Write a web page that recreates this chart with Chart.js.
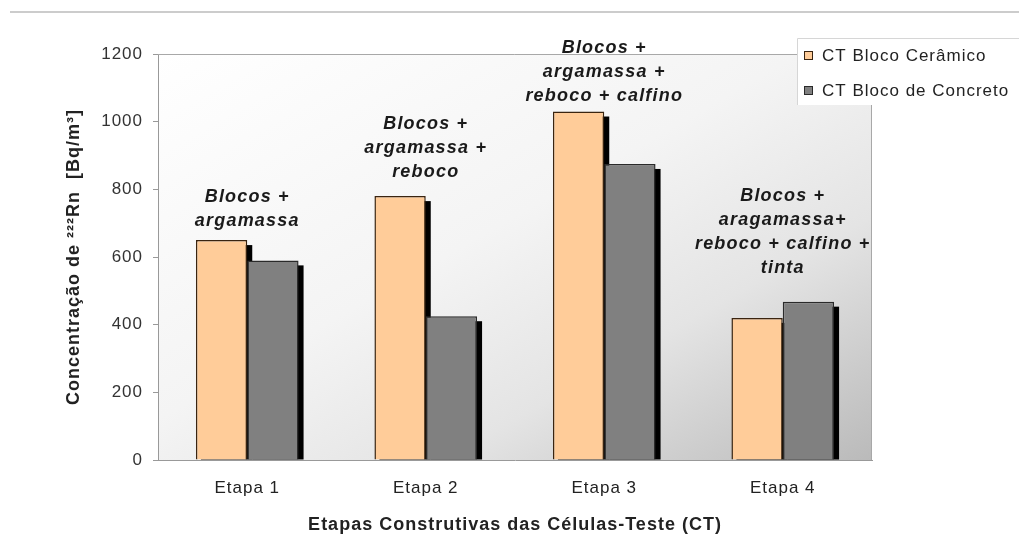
<!DOCTYPE html>
<html>
<head>
<meta charset="utf-8">
<script src="https://cdn.jsdelivr.net/npm/chart.js@4.4.1/dist/chart.umd.min.js"></script>
<style>
    html, body { margin: 0; padding: 0; background: #fff; }
    #wrap { width: 1019px; height: 547px; }
</style>
</head>
<body>
<div id="wrap"><canvas id="radonChart" width="1019" height="547"></canvas></div>
<script>
// values (Bq/m3)
const categories = ['Etapa 1', 'Etapa 2', 'Etapa 3', 'Etapa 4'];
const seriesNames = ['CT Bloco Cerâmico', 'CT Bloco de Concreto'];
const ceramicValues = [650, 780, 1030, 420];
const concreteValues = [590, 425, 875, 468];
const yMin = 0;
const yMax = 1200;
const yStep = 200;

// text above each group, and the value level of its last line
const noteLines = [
    ['Blocos +', 'argamassa'],
    ['Blocos +', 'argamassa +', 'reboco'],
    ['Blocos +', 'argamassa +', 'reboco + calfino'],
    ['Blocos +', 'aragamassa+', 'reboco + calfino +', 'tinta'],
];
const noteAnchors = [705, 850, 1075, 568];

const FONT = "'Liberation Sans', Arial, sans-serif";

const plotDecor = {
    id: 'plotDecor',
    beforeDraw(chart) {
        const { ctx, chartArea: a } = chart;
        ctx.letterSpacing = '1px';
        ctx.save();
        // separator line at the very top
        ctx.strokeStyle = '#cccccc';
        ctx.lineWidth = 2;
        ctx.beginPath();
        ctx.moveTo(10, 12);
        ctx.lineTo(1019, 12);
        ctx.stroke();
        // shaded plot area
        const w = a.right - a.left;
        const h = a.bottom - a.top;
        const k = (2 * w * h) / (w * w + h * h);
        const g = ctx.createLinearGradient(a.left, a.top, a.left + h * k, a.top + w * k);
        g.addColorStop(0, '#ffffff');
        g.addColorStop(0.45, '#f4f4f4');
        g.addColorStop(0.7, '#e4e4e4');
        g.addColorStop(1, '#bababa');
        ctx.fillStyle = g;
        ctx.fillRect(a.left, a.top, w, h);
        ctx.restore();
    },
    beforeDatasetsDraw(chart) {
        const { ctx, chartArea: a } = chart;
        ctx.save();
        ctx.strokeStyle = '#a8a8a8';
        ctx.lineWidth = 1;
        ctx.beginPath();
        ctx.moveTo(a.left, a.top + 0.5);
        ctx.lineTo(a.right - 0.5, a.top + 0.5);
        ctx.lineTo(a.right - 0.5, a.bottom);
        ctx.stroke();
        // drop shadows behind the bars
        ctx.fillStyle = '#000000';
        chart.data.datasets.forEach((ds, i) => {
            chart.getDatasetMeta(i).data.forEach((bar) => {
                const { x, y, base, width } = bar.getProps(['x', 'y', 'base', 'width'], true);
                ctx.fillRect(x - width / 2 + 5, y + 5, width, base - y - 5);
            });
        });
        ctx.restore();
    },
    afterDatasetsDraw(chart) {
        const { ctx } = chart;
        const xs = chart.scales.x;
        const ys = chart.scales.y;
        ctx.save();
        ctx.font = `italic bold 18px ${FONT}`;
        ctx.letterSpacing = '1.2px';
        ctx.fillStyle = '#1a1a1a';
        ctx.textAlign = 'center';
        ctx.textBaseline = 'middle';
        noteLines.forEach((lines, i) => {
            const cx = xs.getPixelForValue(i);
            const lastY = ys.getPixelForValue(noteAnchors[i]);
            lines.forEach((line, j) => {
                ctx.fillText(line, cx, lastY - (lines.length - 1 - j) * 24);
            });
        });
        ctx.restore();
    },
    afterDraw(chart) {
        const { ctx } = chart;
        ctx.save();
        ctx.fillStyle = '#ffffff';
        ctx.fillRect(797, 38, 230, 67);
        ctx.strokeStyle = '#d6d6d6';
        ctx.lineWidth = 1;
        ctx.beginPath();
        ctx.moveTo(797.5, 105);
        ctx.lineTo(797.5, 38.5);
        ctx.lineTo(1019, 38.5);
        ctx.stroke();
        ctx.font = `17px ${FONT}`;
        ctx.letterSpacing = '1px';
        ctx.textBaseline = 'middle';
        chart.data.datasets.forEach((ds, i) => {
            const cy = 55 + i * 35;
            ctx.fillStyle = ds.backgroundColor;
            ctx.fillRect(804, cy - 4, 9, 9);
            ctx.strokeStyle = ds.borderColor;
            ctx.strokeRect(804.5, cy - 3.5, 8, 8);
            ctx.fillStyle = '#222222';
            ctx.fillText(ds.label, 822, cy + 1);
        });
        ctx.restore();
    },
};

new Chart(document.getElementById('radonChart'), {
    type: 'bar',
    data: {
        labels: categories,
        datasets: [
            {
                label: seriesNames[0],
                data: ceramicValues,
                backgroundColor: '#ffcc99',
                borderColor: '#3a2410',
                borderWidth: 1.5,
            },
            {
                label: seriesNames[1],
                data: concreteValues,
                backgroundColor: '#808080',
                borderColor: '#2a2a2a',
                borderWidth: 1.5,
            },
        ],
    },
    options: {
        responsive: false,
        animation: false,
        layout: { padding: { top: 54, right: 147, bottom: 0, left: 0 } },
        datasets: { bar: { categoryPercentage: 0.575, barPercentage: 1 } },
        plugins: {
            legend: { display: false },
            tooltip: { enabled: false },
        },
        scales: {
            x: {
                afterFit: (s) => { s.height = 87; },
                grid: { display: false },
                border: { display: true, color: '#999999', width: 1 },
                ticks: { padding: 10, color: '#222222', font: { family: FONT, size: 17 } },
                title: {
                    display: true,
                    text: 'Etapas Construtivas das Células-Teste (CT)',
                    color: '#222222',
                    font: { family: FONT, size: 18, weight: 'bold' },
                    padding: { top: 0, bottom: 11 },
                },
            },
            y: {
                min: yMin,
                max: yMax,
                afterFit: (s) => { s.width = 158; },
                grid: { drawOnChartArea: false, drawTicks: true, tickLength: 5, color: '#999999' },
                border: { display: true, color: '#999999', width: 1 },
                ticks: {
                    stepSize: yStep,
                    padding: 10,
                    color: '#333333',
                    font: { family: FONT, size: 17 },
                    callback: (v) => String(v),
                },
                title: {
                    display: true,
                    text: 'Concentração de ²²²Rn  [Bq/m³]',
                    color: '#222222',
                    font: { family: FONT, size: 18, weight: 'bold' },
                    padding: { top: 63, bottom: 0 },
                },
            },
        },
    },
    plugins: [plotDecor],
});
</script>
</body>
</html>
